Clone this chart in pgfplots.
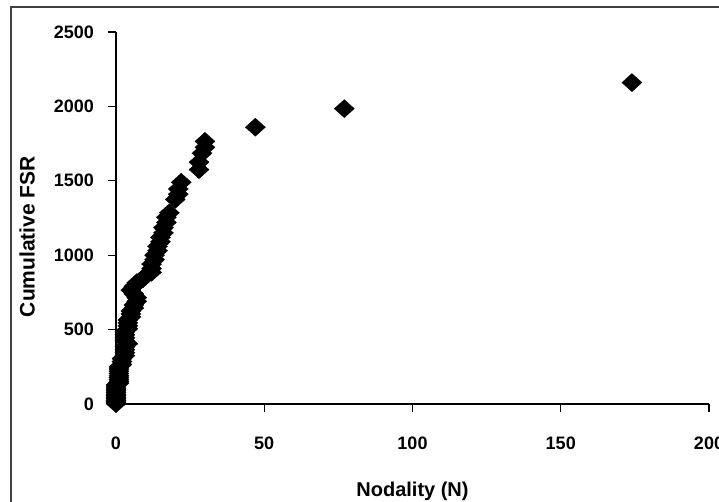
\documentclass[border=0pt]{standalone}
\usepackage{pgfplots}
\pgfplotsset{compat=1.18}
\usepackage{fontspec}
\setmainfont{Liberation Sans}
\begin{document}
\begin{tikzpicture}[x=1pt,y=1pt]
\useasboundingbox (-116,-98) rectangle (603,404);
\draw[line width=1.5pt, black!75] (-105,-120) -- (-105,397) -- (640,397);
\begin{axis}[
  at={(0,0)}, anchor=south west,
  scale only axis, width=593pt, height=372pt,
  xmin=0, xmax=200, ymin=0, ymax=2500,
  axis lines=left, axis line style={line width=1.2pt,-},
  xtick={0,50,100,150,200}, ytick={0,500,1000,1500,2000,2500},
  tick align=outside, major tick length=8pt,
  tick style={line width=1.2pt, black},
  /pgf/number format/assume math mode=true,
  /pgf/number format/set thousands separator={},
  xticklabel style={font=\fontsize{18}{18}\selectfont\bfseries, anchor=center, yshift=-31pt, inner sep=0pt},
  yticklabel style={font=\fontsize{18}{18}\selectfont\bfseries, anchor=east, inner sep=0pt, xshift=-14pt},
  every axis x label/.style={at={(axis description cs:0.5,-0.234)}, anchor=center, font=\fontsize{20}{20}\selectfont\bfseries},
  every axis y label/.style={at={(axis description cs:-0.150,0.45)}, anchor=center, rotate=90, font=\fontsize{21}{21}\selectfont\bfseries},
  xlabel={Nodality (N)}, ylabel={Cumulative FSR},
  clip=false,
]
\addplot[only marks, mark=diamond*, mark size=9pt, mark options={xscale=1.48, fill=black, draw=black}] coordinates {
(0,2)(0,8)(0,15)(0,25)(0,35)(0,45)(0,55)(0,65)(0,78)(0,90)(0,102)(0,115)(0,128)
(1,140)(1,152)(1,165)(1,178)(1,190)(1,205)(1,220)(1,235)(1,250)
(2,265)(2,285)(2,305)(3,325)(3,345)(3,365)(3,385)(4,405)(3,425)(3,445)(3,465)(3,485)
(4,505)(4,525)(4,545)(4,565)(5,585)(5,605)(5,625)(6,645)(6,665)(7,690)(7,715)
(6,740)(5,765)(6,790)(7,815)(9,840)(10,862)(12,885)(12,910)(12,940)(13,970)(13,1000)
(14,1030)(14,1060)(15,1090)(15,1120)(16,1150)(16,1185)(17,1220)(17,1255)(18,1285)
(20,1375)(21,1410)(21,1445)(22,1490)(28,1575)(28,1625)(29,1685)(30,1725)(30,1765)
(47,1860)(77,1985)(174,2160)
};
\end{axis}
\end{tikzpicture}
\end{document}
